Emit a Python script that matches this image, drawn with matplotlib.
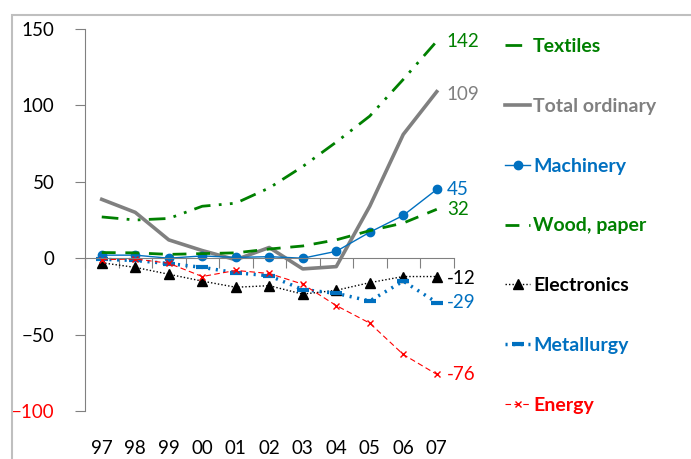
import matplotlib
matplotlib.use('Agg')
from matplotlib import pyplot as plt
from matplotlib.patches import Rectangle
import matplotlib.transforms as mtransforms

plt.rcParams['font.family'] = ['Lato', 'DejaVu Sans']

years = ['97', '98', '99', '00', '01', '02', '03', '04', '05', '06', '07']

textiles = [27, 25, 26, 34, 36, 46, 60, 76, 93, 117, 142]
total_ordinary = [38.5, 30, 12, 5, -1, 7, -7, -5.5, 34, 81, 109]
machinery = [2, 2, 0, 1.5, 0.5, 1, 0, 4.5, 17, 28, 45]
wood_paper = [3.7, 3.5, 2.5, 3, 3.5, 6, 8, 12, 18, 23, 32]
electronics = [-3, -6, -10.5, -15, -19, -18, -23.5, -21, -16, -12, -12]
metallurgy = [-0.7, -1.5, -3.5, -6, -9.5, -11.5, -20.5, -23, -28, -15, -29]
energy = [-1, -0.5, -3.3, -12, -8, -10, -17, -31, -42.5, -63, -76]

end_labels = ['142', '109', '45', '32', '-12', '-29', '-76']

green = '#008000'
grey = '#808080'
blue = '#0070C0'
red = '#FF0000'

fig = plt.figure(figsize=(6.91, 4.59), dpi=100)
ax = fig.add_axes([85/691, 48/459, 368.5/691, 382/459])

x = list(range(len(years)))

# series
ax.plot(x, textiles, color=green, lw=2, linestyle=(0, (6, 3, 1, 3, 1, 3)), label='Textiles')
ax.plot(x, total_ordinary, color=grey, lw=2.6, label='Total ordinary')
ax.plot(x, machinery, color=blue, lw=1, marker='o', ms=6, label='Machinery')
ax.plot(x, wood_paper, color=green, lw=2, linestyle=(0, (5, 3.5)), label='Wood, paper')
ax.plot(x, electronics, color='black', lw=1, linestyle=(0, (1, 1.5)), marker='^', ms=7,
        mfc='black', mec='black', label='Electronics')
ax.plot(x, metallurgy, color=blue, lw=2.5, linestyle=(0, (0.6, 1.6)), marker='_', ms=9, mew=3,
        label='Metallurgy')
ax.plot(x, energy, color=red, lw=0.8, linestyle=(0, (5, 3)), marker='x', ms=5, mew=1,
        label='Energy')

# values at the end of each line
series = [textiles, total_ordinary, machinery, wood_paper, electronics, metallurgy, energy]
colors = [green, grey, blue, green, 'black', blue, red]
dy = [0, -3, 0, 0, -2, 0, 0]
for s, lab, c, d in zip(series, end_labels, colors, dy):
    ax.annotate(lab, (x[-1], s[-1]), xytext=(10, d), textcoords='offset pixels',
                color=c, fontsize=13.5, va='center', ha='left', annotation_clip=False)

ax.set_xlim(-0.5, 10.5)
ax.set_ylim(-100, 150)

# axes look
for side in ['top', 'right']:
    ax.spines[side].set_visible(False)
ax.spines['left'].set_color(grey)
ax.spines['bottom'].set_color(grey)
ax.spines['bottom'].set_position(('data', 0))

ax.set_yticks([-100, -50, 0, 50, 100, 150])
ax.tick_params(axis='y', direction='out', length=7, color=grey, pad=15, labelsize=13.5)
ax.get_yticklabels()[0].set_color(red)

ax.set_xticks([i - 0.5 for i in range(len(years) + 1)])
ax.set_xticklabels([])
ax.tick_params(axis='x', direction='out', length=7, color=grey)

trans = mtransforms.blended_transform_factory(ax.transData, ax.transAxes)
for i, yr in enumerate(years):
    ax.text(i, -0.097, yr, transform=trans, ha='center', va='center', fontsize=13.5)

leg = fig.legend(loc='upper left', bbox_to_anchor=(505/691, 1 - 38/459), frameon=False,
                 labelcolor='linecolor', handlelength=1.3, handletextpad=0.15,
                 labelspacing=2.2, borderaxespad=0, borderpad=0,
                 prop={'weight': 'bold', 'size': 14})

# outer border
fig.patches.append(Rectangle((12/691, -0.1), 1.2, 1.1 - 15/459, transform=fig.transFigure,
                             fill=False, edgecolor='#bfbfbf', lw=1.5, clip_on=False))

fig.savefig('out.png', dpi=100)
